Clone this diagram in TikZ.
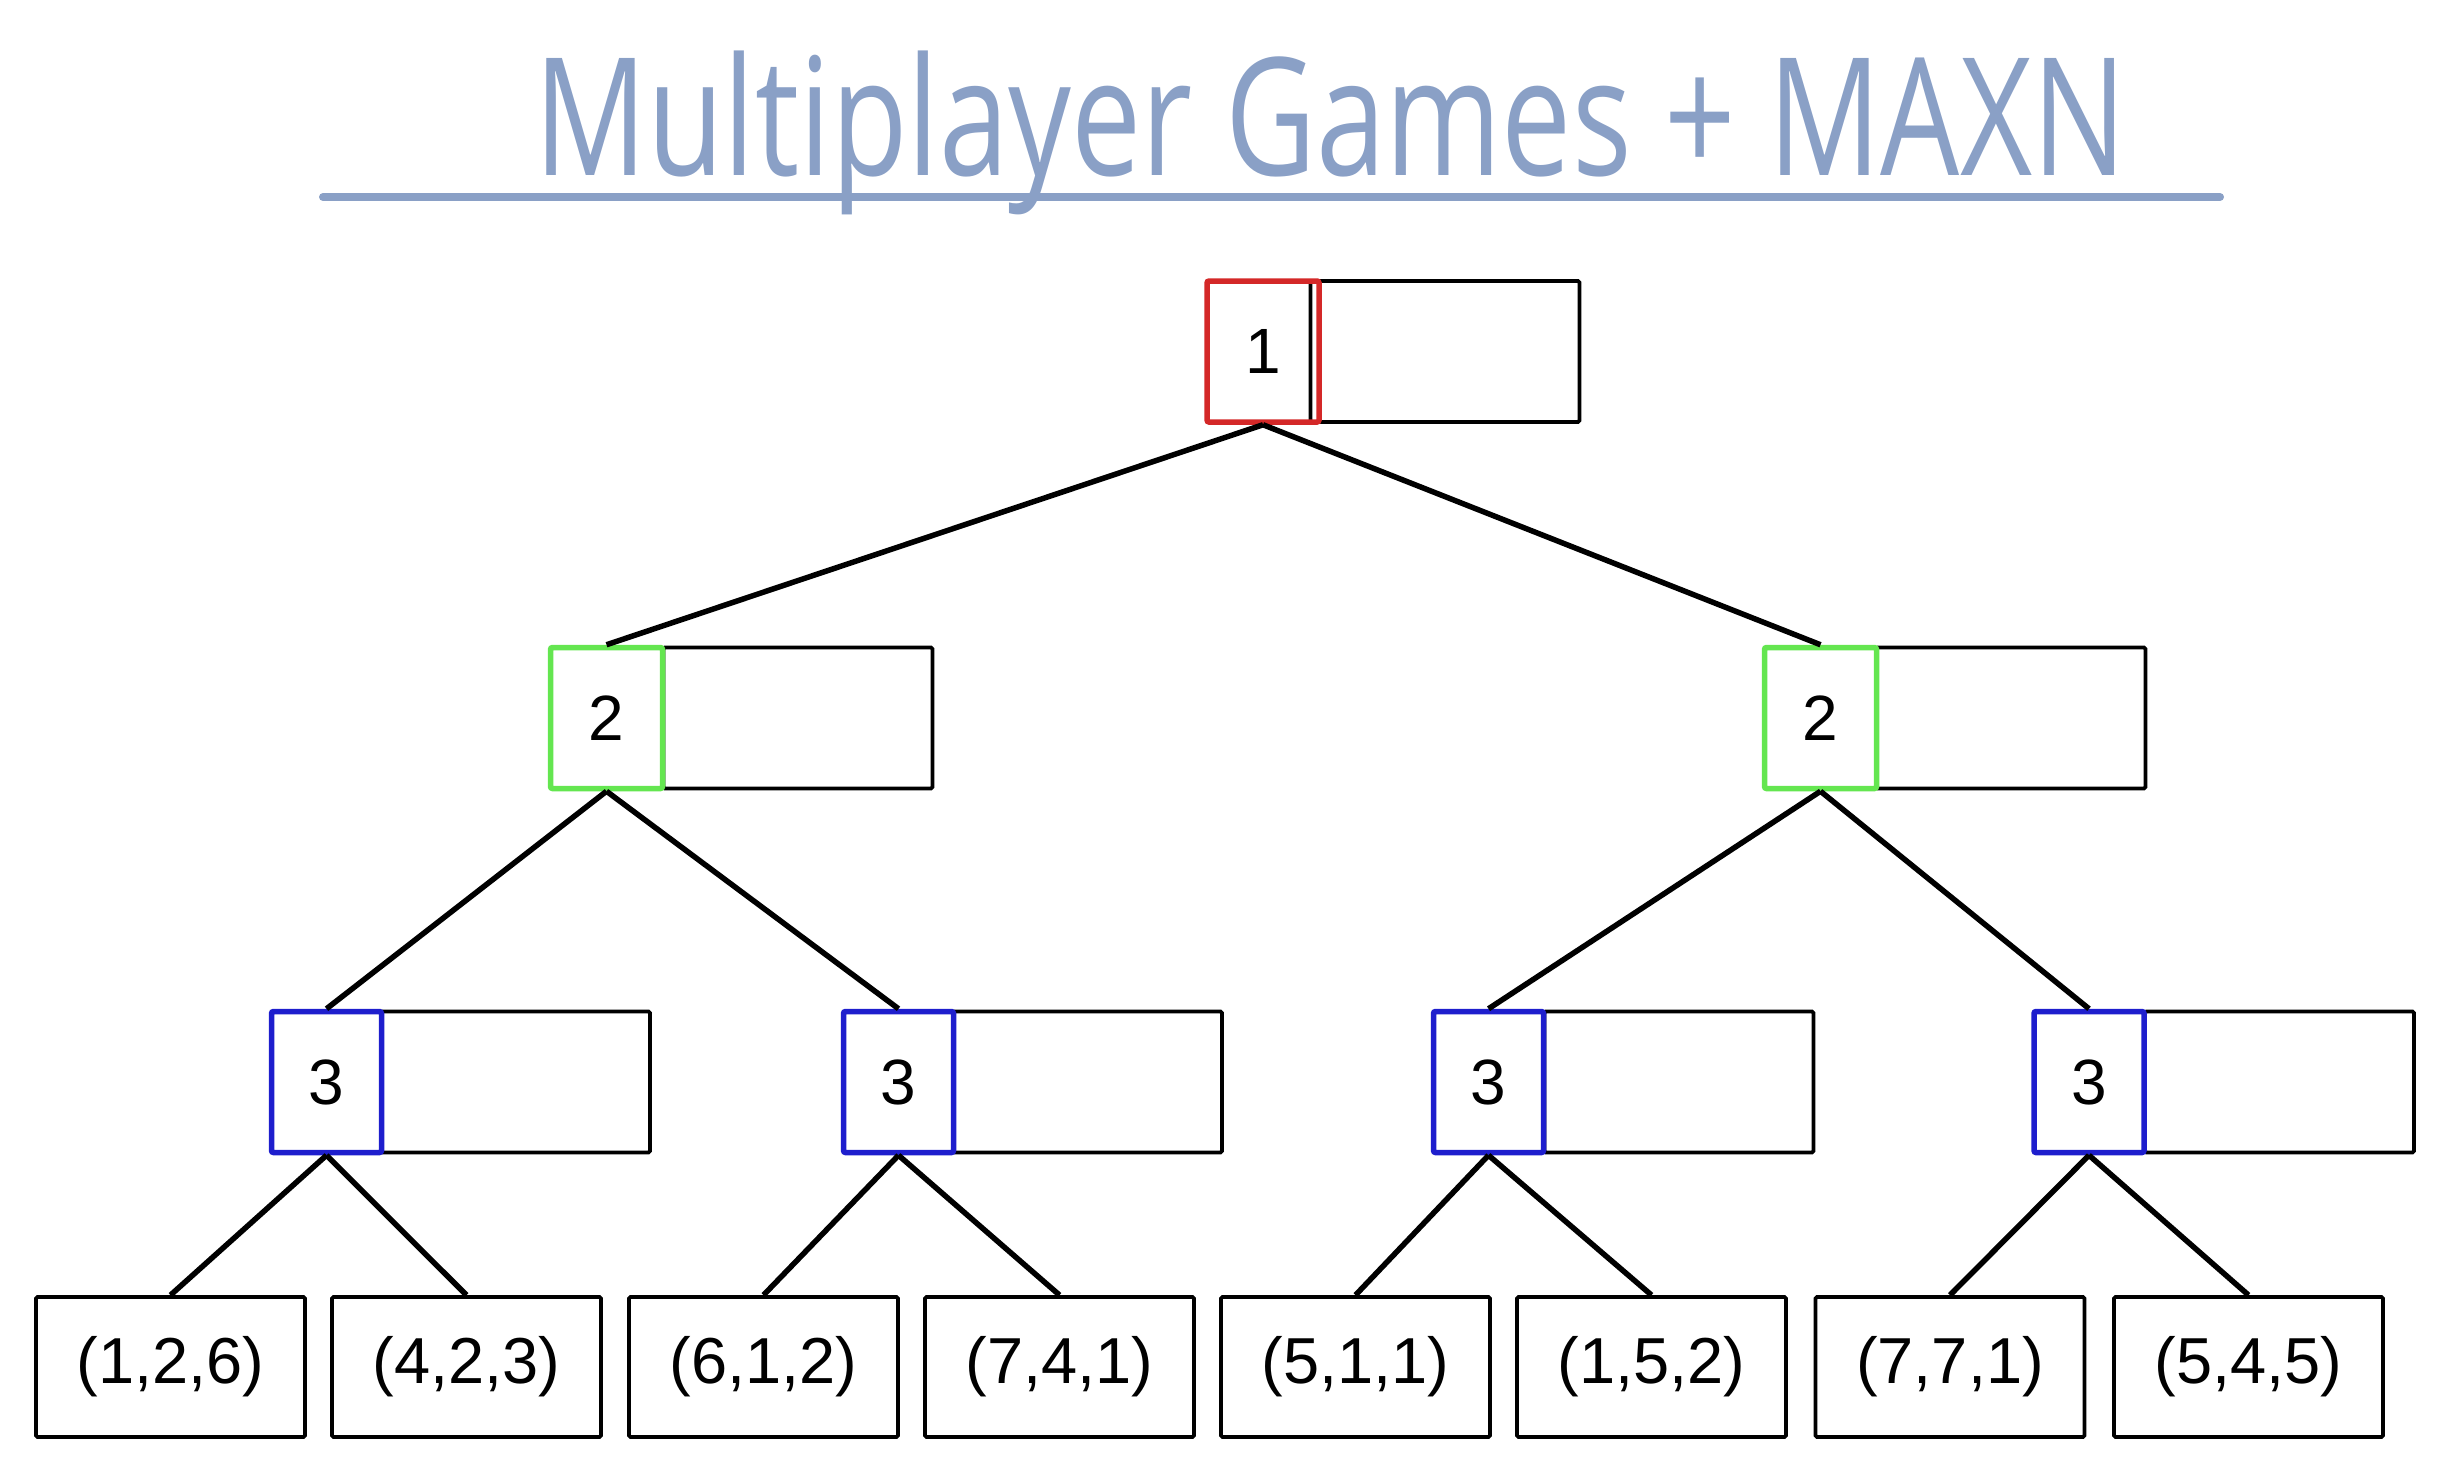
\documentclass[tikz,border=0pt]{standalone}
\usepackage{fontspec}
\setmainfont{Liberation Sans}
\newfontfamily\titlefont{Open Sans}
\definecolor{titleblue}{RGB}{138,160,198}
\definecolor{pred}{RGB}{212,40,40}
\definecolor{pgreen}{RGB}{100,230,80}
\definecolor{pblue}{RGB}{30,30,205}
\tikzset{
  player/.style={draw, line width=5.5pt, minimum width=112pt, minimum height=141pt, inner sep=0pt, rounded corners=2pt, font=\fontsize{64}{70}\selectfont},
  valbox/.style={draw=black, line width=3.8pt, minimum width=269pt, minimum height=141pt, inner sep=0pt, rounded corners=1.5pt},
  leaf/.style={draw=black, line width=3.8pt, minimum width=269pt, minimum height=140pt, inner sep=0pt, rounded corners=1.5pt, font=\fontsize{65}{70}\selectfont},
  edge/.style={draw=black, line width=5.5pt}
}
\begin{document}
\begin{tikzpicture}[x=1pt,y=-1pt]
\useasboundingbox (0,0) rectangle (2450,1476);
% title
\node[anchor=base west, inner sep=0pt, text=titleblue, xscale=0.762, font=\titlefont\fontsize{164}{170}\selectfont] (title) at (534,175) {Multiplayer Games + MAXN};
\coordinate (tl) at (323,197);
\coordinate (tr) at (2220,197);
\draw[titleblue, line width=8pt, line cap=round] (tl) -- (tr);
% root
\node[valbox] (rv) at (1445,351.5) {};
\node[player, draw=pred] (r) at (1263,351.5) {1};
% level 2
\node[valbox] (lv) at (798,718) {};
\node[player, draw=pgreen] (l) at (606.5,718) {2};
\node[valbox] (mv) at (2011,718) {};
\node[player, draw=pgreen] (m) at (1820.5,718) {2};
% level 3
\node[valbox] (av) at (515.5,1082) {};
\node[player, draw=pblue, minimum width=110pt] (a) at (326.5,1082) {3};
\node[valbox] (bv) at (1087.5,1082) {};
\node[player, draw=pblue, minimum width=110pt] (b) at (898.5,1082) {3};
\node[valbox] (cv) at (1679,1082) {};
\node[player, draw=pblue, minimum width=110pt] (c) at (1488.5,1082) {3};
\node[valbox] (dv) at (2279.5,1082) {};
\node[player, draw=pblue, minimum width=110pt] (d) at (2089,1082) {3};
% leaves
\node[leaf] (t1) at (170.5,1367) {(1,2,6)};
\node[leaf] (t2) at (466.5,1367) {(4,2,3)};
\node[leaf] (t3) at (763.5,1367) {(6,1,2)};
\node[leaf] (t4) at (1059.5,1367) {(7,4,1)};
\node[leaf] (t5) at (1355.5,1367) {(5,1,1)};
\node[leaf] (t6) at (1651.5,1367) {(1,5,2)};
\node[leaf] (t7) at (1950,1367) {(7,7,1)};
\node[leaf] (t8) at (2248.5,1367) {(5,4,5)};
% edges
\draw[edge] (r.south) -- (l.north);
\draw[edge] (r.south) -- (m.north);
\draw[edge] (l.south) -- (a.north);
\draw[edge] (l.south) -- (b.north);
\draw[edge] (m.south) -- (c.north);
\draw[edge] (m.south) -- (d.north);
\draw[edge] (a.south) -- (t1.north);
\draw[edge] (a.south) -- (t2.north);
\draw[edge] (b.south) -- (t3.north);
\draw[edge] (b.south) -- (t4.north);
\draw[edge] (c.south) -- (t5.north);
\draw[edge] (c.south) -- (t6.north);
\draw[edge] (d.south) -- (t7.north);
\draw[edge] (d.south) -- (t8.north);
\end{tikzpicture}
\end{document}
